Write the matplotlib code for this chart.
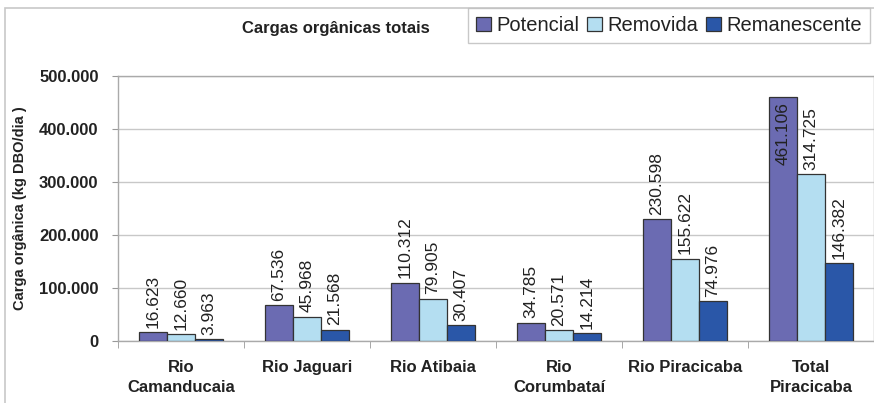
import matplotlib
matplotlib.use("Agg")
import matplotlib.pyplot as plt
from matplotlib.patches import Rectangle
import numpy as np

plt.rcParams['font.family'] = ['Liberation Sans', 'DejaVu Sans']

categories = ["Rio\nCamanducaia", "Rio Jaguari", "Rio Atibaia", "Rio\nCorumbataí",
              "Rio Piracicaba", "Total\nPiracicaba"]
potencial = [16623, 67536, 110312, 34785, 230598, 461106]
removida = [12660, 45968, 79905, 20571, 155622, 314725]
remanescente = [3963, 21568, 30407, 14214, 74976, 146382]
series_names = ["Potencial", "Removida", "Remanescente"]
colors = ["#6B6BB2", "#B4DEF1", "#2A57A8"]
yticks = [0, 100000, 200000, 300000, 400000, 500000]
ytick_labels = ["0", "100.000", "200.000", "300.000", "400.000", "500.000"]
title = "Cargas orgânicas totais"
ylabel = "Carga orgânica (kg DBO/dia )"

def fmt(v):
    return f"{v:,}".replace(",", ".")

fig = plt.figure(figsize=(8.74, 4.03), dpi=100)
fig.patch.set_facecolor("white")
ax = fig.add_axes([118/874, 1-341/403, 756/874, 265/403])

x = np.arange(len(categories))
w = 0.2226
data = [potencial, removida, remanescente]
handles = []
for i, (vals, c, name) in enumerate(zip(data, colors, series_names)):
    pos = x + (i - 1) * w
    bars = ax.bar(pos, vals, width=w, color=c, edgecolor="#333333", linewidth=0.9,
                  label=name, zorder=3)
    handles.append(bars)
    for p, v in zip(pos, vals):
        if v > 0.85 * yticks[-1]:
            ax.annotate(fmt(v), (p, v), xytext=(0, -4), textcoords="offset points",
                        rotation=90, ha="center", va="top", fontsize=12.5,
                        color="#222222", zorder=4)
        else:
            ax.annotate(fmt(v), (p, v), xytext=(0, 3), textcoords="offset points",
                        rotation=90, ha="center", va="bottom", fontsize=12.5,
                        color="#222222", zorder=4)

ax.set_xlim(-0.5, len(categories) - 0.5)
ax.set_ylim(0, 500000)
ax.set_yticks(yticks)
ax.set_yticklabels(ytick_labels, fontsize=12, fontweight="bold", color="#222222")
ax.set_xticks(x)
ax.set_xticklabels(categories, fontsize=12, fontweight="bold", color="#222222",
                   linespacing=1.35)
ax.tick_params(axis="x", length=0, pad=14)
ax.set_xticks(np.arange(len(categories) + 1) - 0.5, minor=True)
ax.tick_params(axis="x", which="minor", length=5, color="#999999", direction="out")
ax.tick_params(axis="y", length=4, color="#999999", pad=10)
ax.yaxis.grid(True, color="#C8C8C8", linewidth=1.0, zorder=0)
ax.set_axisbelow(True)
for s in ax.spines.values():
    s.set_color("#AAAAAA")
    s.set_linewidth(1.0)
ax.set_ylabel(ylabel, fontsize=10.5, fontweight="bold", color="#222222")
ax.yaxis.set_label_coords(-0.12, 0.5)

# outer frame
fig.patches.append(Rectangle((5/874, -0.05), 1.0, 1 - 8/403 + 0.05,
                             transform=fig.transFigure, fill=False,
                             edgecolor="#C8C8C8", linewidth=1.2))

fig.text(336/874, 1 - 28/403, title, ha="center", va="center", fontsize=12,
         fontweight="bold", color="#222222")
leg = fig.legend(handles=handles, labels=series_names, loc="upper left",
                 bbox_to_anchor=(468/874, 1 - 8/403), ncol=3, fontsize=14.5,
                 frameon=True, fancybox=False, edgecolor="#BBBBBB",
                 handlelength=0.75, handleheight=0.75, handletextpad=0.25,
                 columnspacing=0.4, borderpad=0.4, borderaxespad=0)
leg.get_frame().set_linewidth(1.0)
for t in leg.get_texts():
    t.set_color("#222222")

fig.savefig("out.png", dpi=100, facecolor="white")
